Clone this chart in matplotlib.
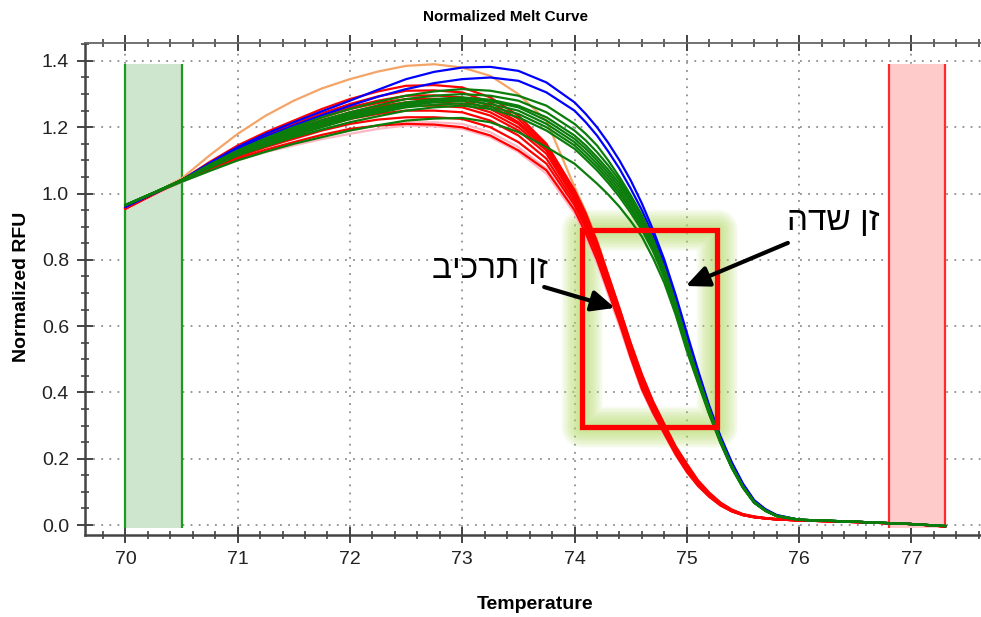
import matplotlib
matplotlib.use("Agg")
import matplotlib.pyplot as plt
from matplotlib.patches import Rectangle
from matplotlib.ticker import MultipleLocator, FormatStrFormatter

# temperature grid the curve values were read at (finer on the melt slope)
temps = [70.0, 70.25, 70.5, 70.75, 71.0, 71.25, 71.5, 71.75, 72.0, 72.25, 72.5, 72.75,
         73.0, 73.25, 73.5, 73.75,
         74.0, 74.1, 74.2, 74.3, 74.4, 74.5, 74.6, 74.7, 74.8, 74.9, 75.0, 75.1, 75.2,
         75.3, 75.4, 75.5, 75.6, 75.7, 75.8,
         76.0, 76.5, 77.0, 77.3]

orange_curve = [
    0.955, 1.0, 1.045, 1.115, 1.18, 1.235, 1.28, 1.317, 1.345, 1.368, 1.385, 1.39, 1.38, 1.355, 1.30, 1.22,
    1.02, 0.945, 0.86, 0.755, 0.65, 0.548, 0.45, 0.37, 0.30, 0.235, 0.18, 0.132, 0.095, 0.066, 0.045,
    0.032, 0.025, 0.021, 0.018,
    0.015, 0.01, 0.003, -0.004]

pink_curves = [
    [0.955, 0.995, 1.035, 1.07, 1.10, 1.125, 1.145, 1.164, 1.18, 1.195, 1.205, 1.203, 1.195, 1.17, 1.125, 1.06,
     0.94, 0.87, 0.79, 0.695, 0.60, 0.50, 0.405, 0.334, 0.272, 0.211, 0.16, 0.117, 0.085, 0.059, 0.042,
     0.03, 0.024, 0.02, 0.017,
     0.014, 0.009, 0.003, -0.004],
    [0.955, 0.995, 1.035, 1.072, 1.105, 1.13, 1.15, 1.172, 1.19, 1.205, 1.215, 1.215, 1.21, 1.185, 1.14, 1.075,
     0.955, 0.885, 0.805, 0.71, 0.61, 0.508, 0.41, 0.337, 0.275, 0.214, 0.162, 0.119, 0.086, 0.06, 0.042,
     0.03, 0.024, 0.02, 0.017,
     0.014, 0.009, 0.003, -0.004],
]

red_curves = [
    [0.955, 0.998, 1.04, 1.095, 1.145, 1.185, 1.22, 1.255, 1.285, 1.308, 1.325, 1.327, 1.32, 1.29, 1.235, 1.15,
     1.01, 0.94, 0.855, 0.755, 0.655, 0.55, 0.455, 0.373, 0.305, 0.238, 0.185, 0.135, 0.098, 0.068, 0.047,
     0.033, 0.026, 0.021, 0.018,
     0.015, 0.01, 0.003, -0.004],
    [0.955, 0.998, 1.04, 1.092, 1.14, 1.177, 1.21, 1.242, 1.27, 1.293, 1.31, 1.311, 1.305, 1.275, 1.225, 1.145,
     1.005, 0.935, 0.85, 0.75, 0.65, 0.545, 0.45, 0.369, 0.30, 0.235, 0.18, 0.132, 0.095, 0.066, 0.045,
     0.032, 0.025, 0.021, 0.018,
     0.015, 0.01, 0.003, -0.004],
    [0.955, 0.998, 1.04, 1.09, 1.135, 1.172, 1.205, 1.234, 1.26, 1.28, 1.295, 1.296, 1.29, 1.265, 1.215, 1.14,
     1.00, 0.93, 0.845, 0.745, 0.645, 0.54, 0.445, 0.365, 0.298, 0.232, 0.178, 0.13, 0.094, 0.065, 0.045,
     0.032, 0.025, 0.021, 0.018,
     0.015, 0.01, 0.003, -0.004],
    [0.955, 0.998, 1.04, 1.087, 1.13, 1.167, 1.20, 1.229, 1.255, 1.273, 1.285, 1.286, 1.28, 1.255, 1.21, 1.135,
     0.995, 0.925, 0.84, 0.74, 0.64, 0.535, 0.44, 0.36, 0.295, 0.229, 0.175, 0.128, 0.092, 0.064, 0.044,
     0.031, 0.024, 0.02, 0.017,
     0.014, 0.009, 0.003, -0.004],
    [0.955, 0.998, 1.04, 1.084, 1.125, 1.16, 1.19, 1.219, 1.245, 1.263, 1.275, 1.276, 1.27, 1.245, 1.20, 1.13,
     0.99, 0.92, 0.835, 0.735, 0.635, 0.53, 0.435, 0.357, 0.29, 0.226, 0.172, 0.126, 0.09, 0.063, 0.043,
     0.031, 0.024, 0.02, 0.017,
     0.014, 0.009, 0.003, -0.004],
    [0.955, 0.998, 1.04, 1.082, 1.12, 1.154, 1.185, 1.212, 1.235, 1.253, 1.265, 1.265, 1.26, 1.235, 1.19, 1.12,
     0.985, 0.915, 0.83, 0.73, 0.63, 0.525, 0.43, 0.354, 0.288, 0.224, 0.17, 0.125, 0.09, 0.062, 0.043,
     0.031, 0.024, 0.02, 0.017,
     0.014, 0.009, 0.003, -0.004],
    [0.955, 0.998, 1.04, 1.079, 1.115, 1.147, 1.175, 1.202, 1.225, 1.24, 1.25, 1.25, 1.245, 1.22, 1.175, 1.105,
     0.975, 0.905, 0.825, 0.725, 0.625, 0.52, 0.425, 0.35, 0.285, 0.221, 0.168, 0.123, 0.088, 0.061, 0.042,
     0.03, 0.024, 0.02, 0.017,
     0.014, 0.009, 0.003, -0.004],
    [0.955, 0.998, 1.04, 1.076, 1.11, 1.14, 1.165, 1.19, 1.21, 1.223, 1.23, 1.23, 1.225, 1.20, 1.155, 1.09,
     0.965, 0.895, 0.815, 0.72, 0.62, 0.515, 0.42, 0.345, 0.28, 0.218, 0.165, 0.121, 0.087, 0.06, 0.042,
     0.03, 0.024, 0.02, 0.017,
     0.014, 0.009, 0.003, -0.004],
    [0.955, 0.998, 1.04, 1.073, 1.105, 1.132, 1.155, 1.177, 1.195, 1.205, 1.21, 1.208, 1.20, 1.175, 1.13, 1.07,
     0.95, 0.88, 0.80, 0.705, 0.61, 0.505, 0.41, 0.338, 0.275, 0.213, 0.16, 0.118, 0.085, 0.059, 0.041,
     0.03, 0.023, 0.02, 0.017,
     0.014, 0.009, 0.003, -0.004],
]

blue_curves = [
    [0.96, 1.0, 1.04, 1.092, 1.14, 1.18, 1.215, 1.248, 1.28, 1.313, 1.345, 1.367, 1.38, 1.382, 1.37, 1.335,
     1.275, 1.24, 1.20, 1.153, 1.10, 1.04, 0.97, 0.89, 0.80, 0.695, 0.58, 0.467, 0.36, 0.268, 0.19,
     0.125, 0.075, 0.048, 0.03,
     0.016, 0.01, 0.003, -0.003],
    [0.96, 1.0, 1.04, 1.09, 1.135, 1.172, 1.205, 1.236, 1.265, 1.292, 1.315, 1.333, 1.345, 1.35, 1.34, 1.305,
     1.25, 1.215, 1.175, 1.127, 1.075, 1.015, 0.95, 0.875, 0.788, 0.685, 0.572, 0.46, 0.355, 0.264, 0.187,
     0.123, 0.074, 0.047, 0.03,
     0.016, 0.01, 0.003, -0.003],
]

green_curves = [
    [0.965, 1.002, 1.04, 1.087, 1.13, 1.167, 1.20, 1.23, 1.255, 1.277, 1.295, 1.308, 1.315, 1.31, 1.295, 1.265,
     1.21, 1.18, 1.145, 1.10, 1.05, 0.995, 0.935, 0.862, 0.775, 0.672, 0.553, 0.447, 0.35, 0.258, 0.18,
     0.117, 0.07, 0.044, 0.028,
     0.016, 0.01, 0.003, -0.003],
    [0.965, 1.002, 1.04, 1.084, 1.125, 1.162, 1.195, 1.222, 1.245, 1.266, 1.285, 1.295, 1.30, 1.295, 1.28, 1.245,
     1.19, 1.16, 1.125, 1.085, 1.04, 0.987, 0.93, 0.857, 0.77, 0.668, 0.55, 0.444, 0.345, 0.256, 0.178,
     0.116, 0.07, 0.044, 0.028,
     0.016, 0.01, 0.003, -0.003],
    [0.965, 1.002, 1.04, 1.083, 1.125, 1.16, 1.19, 1.216, 1.24, 1.258, 1.275, 1.285, 1.29, 1.283, 1.265, 1.23,
     1.175, 1.145, 1.11, 1.072, 1.03, 0.978, 0.92, 0.85, 0.765, 0.664, 0.545, 0.441, 0.343, 0.254, 0.176,
     0.115, 0.069, 0.043, 0.027,
     0.016, 0.01, 0.003, -0.003],
    [0.965, 1.002, 1.04, 1.081, 1.12, 1.154, 1.185, 1.211, 1.235, 1.253, 1.27, 1.28, 1.285, 1.278, 1.26, 1.22,
     1.165, 1.135, 1.10, 1.062, 1.02, 0.97, 0.915, 0.846, 0.76, 0.66, 0.54, 0.438, 0.34, 0.252, 0.175,
     0.114, 0.068, 0.043, 0.027,
     0.016, 0.01, 0.003, -0.003],
    [0.965, 1.002, 1.04, 1.08, 1.12, 1.152, 1.18, 1.206, 1.23, 1.248, 1.265, 1.275, 1.28, 1.27, 1.25, 1.21,
     1.155, 1.124, 1.09, 1.052, 1.01, 0.96, 0.905, 0.838, 0.755, 0.656, 0.538, 0.436, 0.34, 0.252, 0.175,
     0.114, 0.068, 0.043, 0.027,
     0.016, 0.01, 0.003, -0.003],
    [0.965, 1.002, 1.04, 1.078, 1.115, 1.146, 1.175, 1.20, 1.225, 1.243, 1.26, 1.268, 1.272, 1.262, 1.24, 1.20,
     1.145, 1.113, 1.08, 1.042, 1.00, 0.952, 0.90, 0.832, 0.75, 0.652, 0.535, 0.434, 0.338, 0.25, 0.174,
     0.113, 0.068, 0.043, 0.027,
     0.016, 0.01, 0.003, -0.003],
    [0.965, 1.002, 1.04, 1.077, 1.115, 1.143, 1.17, 1.193, 1.215, 1.233, 1.25, 1.26, 1.265, 1.255, 1.23, 1.19,
     1.135, 1.103, 1.07, 1.032, 0.99, 0.942, 0.89, 0.825, 0.745, 0.648, 0.532, 0.432, 0.336, 0.249, 0.173,
     0.113, 0.067, 0.043, 0.027,
     0.016, 0.01, 0.003, -0.003],
    [0.965, 1.0, 1.035, 1.068, 1.10, 1.126, 1.15, 1.17, 1.19, 1.206, 1.22, 1.226, 1.228, 1.215, 1.185, 1.14,
     1.09, 1.06, 1.03, 0.997, 0.96, 0.917, 0.87, 0.805, 0.73, 0.635, 0.525, 0.428, 0.333, 0.247, 0.172,
     0.112, 0.067, 0.043, 0.027,
     0.016, 0.01, 0.003, -0.003],
]

# begin / end temperature regions and highlighted window
begin_region = (70.0, 70.5)
end_region = (76.8, 77.3)
band_top = 1.39
box_x = (74.07, 75.27)
box_y = (0.296, 0.89)

# hebrew labels (logical order); matplotlib has no bidi so they get reversed when drawn
label_graft = "זן תרכיב"
label_field = "זן שדה"
graft_text_pos = (73.25, 0.77)
graft_arrow = ((73.73, 0.718), (74.36, 0.655))
field_text_pos = (76.3, 0.915)
field_arrow = ((75.9, 0.851), (74.99, 0.721))

sans = ["Liberation Sans", "DejaVu Sans"]

fig = plt.figure(figsize=(9.81, 6.17), dpi=100)
ax = fig.add_axes([0.0866, 0.1329, 0.9134, 0.7974])
ax.set_xlim(69.64, 77.62)
ax.set_ylim(-0.03, 1.454)

# shaded begin / end regions
for (x0, x1), fill, edge in [(begin_region, "#cde6cd", "#1f991f"), (end_region, "#ffcaca", "#ff2a2a")]:
    ax.fill_between([x0, x1], -0.01, band_top, color=fill, lw=0, zorder=1)
    ax.vlines([x0, x1], -0.01, band_top, colors=edge, lw=1.6, zorder=2)

lw = 1.6
ax.plot(temps, orange_curve, color="#f4a466", lw=lw, zorder=3)
for c in pink_curves:
    ax.plot(temps, c, color="#ffb7c3", lw=lw, zorder=3)
for c in red_curves:
    ax.plot(temps, c, color="#ff0000", lw=lw, zorder=4)
for c in blue_curves:
    ax.plot(temps, c, color="#0000ff", lw=lw, zorder=5)
for c in green_curves:
    ax.plot(temps, c, color="#0b7d0b", lw=lw, zorder=6)

# soft glow round the highlight box, then the box itself
bx, by = box_x[0], box_y[0]
bw, bh = box_x[1] - box_x[0], box_y[1] - box_y[0]
for glw in range(30, 4, -2):
    ax.add_patch(Rectangle((bx, by), bw, bh, fill=False, ec="#b4de62", lw=glw, alpha=0.07,
                           joinstyle="round", zorder=2.5))
ax.add_patch(Rectangle((bx, by), bw, bh, fill=False, ec="#ff0000", lw=3.8,
                       joinstyle="miter", zorder=8))

# annotations
arrow_kw = dict(arrowstyle="-|>,head_length=1.0,head_width=0.45", color="black", lw=3.0,
                shrinkA=0, shrinkB=0, mutation_scale=14)
ax.annotate("", xy=graft_arrow[1], xytext=graft_arrow[0], arrowprops=arrow_kw, zorder=9)
ax.annotate("", xy=field_arrow[1], xytext=field_arrow[0], arrowprops=arrow_kw, zorder=9)
ax.text(*graft_text_pos, label_graft[::-1], fontsize=24, family=sans, ha="center", va="center", zorder=9)
ax.text(*field_text_pos, label_field[::-1], fontsize=24, family=sans, ha="center", va="center", zorder=9)

# axes styling
ax.xaxis.set_major_locator(MultipleLocator(1))
ax.xaxis.set_minor_locator(MultipleLocator(0.2))
ax.yaxis.set_major_locator(MultipleLocator(0.2))
ax.yaxis.set_minor_locator(MultipleLocator(0.05))
ax.yaxis.set_major_formatter(FormatStrFormatter("%.1f"))
ax.grid(True, which="major", color="#8f8f8f", linestyle=(0, (1, 3.5)), lw=1.3, zorder=0)
ax.set_axisbelow(True)

for side in ["left", "bottom"]:
    ax.spines[side].set_color("#444444")
    ax.spines[side].set_linewidth(1.8)
ax.spines["top"].set_color("#666666")
ax.spines["top"].set_linewidth(1.3)
ax.spines["right"].set_visible(False)

ax.tick_params(which="major", direction="inout", length=11, width=1.4, color="#444444",
               top=True, labelsize=14, labelcolor="#222222", pad=6)
ax.tick_params(which="minor", direction="inout", length=6, width=1.2, color="#444444", top=True)
for lab in ax.get_xticklabels() + ax.get_yticklabels():
    lab.set_family(sans)

fig.text(0.5148, 0.9725, "Normalized Melt Curve", fontsize=11, fontweight="bold",
         family=sans, ha="center", va="center")
fig.text(0.5454, 0.0195, "Temperature", fontsize=14, fontweight="bold",
         family=sans, ha="center", va="center")
fig.text(0.0224, 0.535, "Normalized RFU", fontsize=14, fontweight="bold",
         family=sans, ha="center", va="center", rotation=90)

fig.savefig("out.png", dpi=100, facecolor="white")
